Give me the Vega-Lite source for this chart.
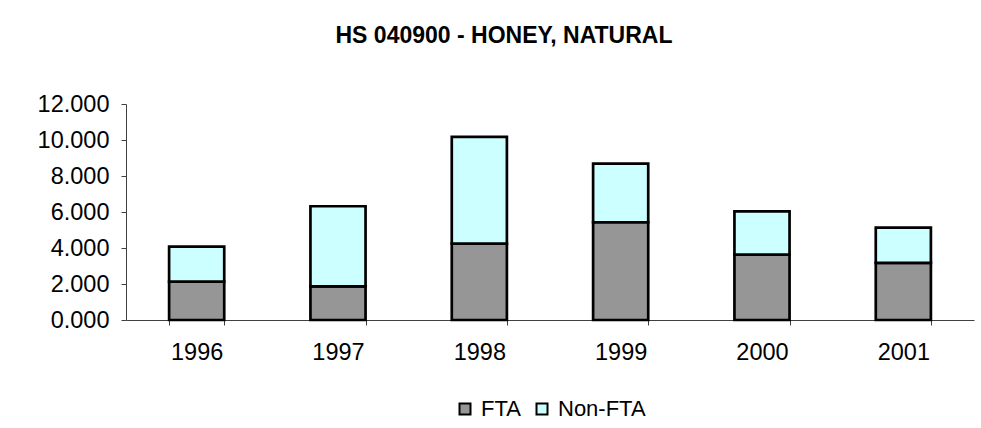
{
  "$schema": "https://vega.github.io/schema/vega-lite/v6.json",
  "autosize": {"type": "none"},
  "padding": {"left": 126, "top": 104, "right": 7, "bottom": 108},
  "width": 848,
  "height": 216,
  "background": "white",
  "title": {
    "text": "HS 040900 - HONEY, NATURAL",
    "font": "Liberation Sans",
    "fontSize": 23,
    "fontWeight": "bold",
    "color": "black",
    "anchor": "middle",
    "frame": "group",
    "dx": -46,
    "baseline": "alphabetic",
    "offset": 26
  },
  "data": {
    "values": [
      {"Year": "1996", "Series": "FTA", "value": 2.13},
      {"Year": "1996", "Series": "Non-FTA", "value": 1.95},
      {"Year": "1997", "Series": "FTA", "value": 1.87},
      {"Year": "1997", "Series": "Non-FTA", "value": 4.45},
      {"Year": "1998", "Series": "FTA", "value": 4.24},
      {"Year": "1998", "Series": "Non-FTA", "value": 5.93},
      {"Year": "1999", "Series": "FTA", "value": 5.43},
      {"Year": "1999", "Series": "Non-FTA", "value": 3.26},
      {"Year": "2000", "Series": "FTA", "value": 3.63},
      {"Year": "2000", "Series": "Non-FTA", "value": 2.41},
      {"Year": "2001", "Series": "FTA", "value": 3.17},
      {"Year": "2001", "Series": "Non-FTA", "value": 1.96}
    ]
  },
  "mark": {"type": "bar", "stroke": "black", "strokeWidth": 2.7},
  "encoding": {
    "x": {
      "field": "Year",
      "type": "nominal",
      "scale": {"paddingInner": 0.61, "paddingOuter": 0.305},
      "axis": {
        "title": null,
        "labelAngle": 0,
        "tickBand": "extent",
        "labelFont": "Liberation Sans",
        "labelFontSize": 23.5,
        "labelColor": "black",
        "labelPadding": 15,
        "tickSize": 5,
        "domainColor": "#404040",
        "tickColor": "#404040",
        "grid": false
      }
    },
    "y": {
      "field": "value",
      "type": "quantitative",
      "stack": "zero",
      "scale": {"domain": [0, 12], "nice": false},
      "axis": {
        "title": null,
        "values": [0, 2, 4, 6, 8, 10, 12],
        "format": ".3f",
        "labelFont": "Liberation Sans",
        "labelFontSize": 23.5,
        "labelColor": "black",
        "labelPadding": 12,
        "tickSize": 5,
        "domainColor": "#404040",
        "tickColor": "#404040",
        "grid": false
      }
    },
    "color": {
      "field": "Series",
      "type": "nominal",
      "scale": {"domain": ["FTA", "Non-FTA"], "range": ["#969696", "#CCFFFF"]},
      "legend": {
        "title": null,
        "orient": "bottom",
        "direction": "horizontal",
        "symbolType": "square",
        "symbolSize": 121,
        "symbolStrokeColor": "black",
        "symbolStrokeWidth": 2,
        "labelFont": "Liberation Sans",
        "labelFontSize": 22,
        "labelColor": "black",
        "labelOffset": 5,
        "columnPadding": 10,
        "offset": 34
      }
    },
    "order": {"field": "Series", "sort": "ascending"}
  },
  "config": {
    "view": {"stroke": null},
    "legend": {"layout": {"bottom": {"anchor": "middle"}}}
  }
}
